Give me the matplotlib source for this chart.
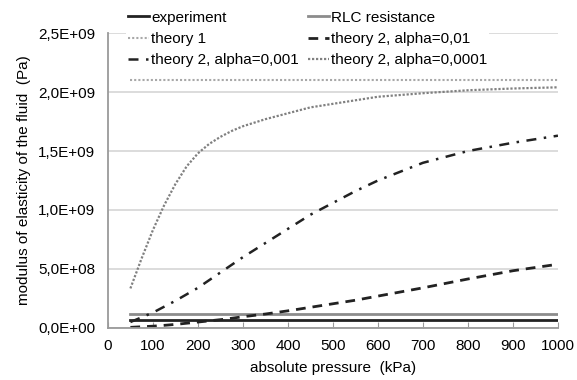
import numpy as np
import matplotlib.pyplot as plt
from matplotlib.ticker import FuncFormatter, MultipleLocator

plt.rcParams['font.family'] = ['Liberation Sans', 'DejaVu Sans']

# absolute pressure (kPa)
p = np.array([50, 75, 100, 125, 150, 175, 200, 225, 250, 275, 300, 350, 400, 450,
              500, 550, 600, 700, 800, 900, 1000])

# constant levels (Pa)
experiment = 6.5e7
rlc_resistance = 1.15e8
theory1 = 2.1e9

# theory 2 curves (Pa)
alpha_0001 = np.array([0.335, 0.59, 0.83, 1.04, 1.22, 1.37, 1.48, 1.56, 1.62, 1.67,
                       1.71, 1.77, 1.82, 1.87, 1.90, 1.93, 1.96, 1.99, 2.015, 2.03,
                       2.04]) * 1e9
alpha_001 = np.array([0.05, 0.09, 0.13, 0.18, 0.23, 0.285, 0.34, 0.405, 0.47, 0.535,
                      0.60, 0.72, 0.84, 0.96, 1.06, 1.16, 1.25, 1.40, 1.50, 1.57,
                      1.63]) * 1e9
alpha_01 = np.array([0.005, 0.01, 0.015, 0.022, 0.03, 0.04, 0.05, 0.06, 0.07, 0.082,
                     0.095, 0.118, 0.145, 0.175, 0.205, 0.235, 0.27, 0.34, 0.415,
                     0.485, 0.54]) * 1e9

fig = plt.figure(figsize=(5.77, 3.8), dpi=100)
ax = fig.add_axes([0.187, 0.137, 0.78, 0.776])

ax.grid(axis='y', color='#d9d9d9', lw=1.3)
ax.set_axisbelow(True)

l_exp, = ax.plot(p, np.full(len(p), experiment), color='#222222', lw=2,
                 label='experiment')
l_rlc, = ax.plot(p, np.full(len(p), rlc_resistance), color='#8c8c8c', lw=2,
                 label='RLC resistance')
l_t1, = ax.plot(p, np.full(len(p), theory1), color='#a8a8a8', lw=1.5,
                ls=(0, (1, 1)), label='theory 1')
l_a2, = ax.plot(p, alpha_01, color='#222222', lw=2, ls=(0, (3.5, 2.5)),
                label='theory 2, alpha=0,01')
l_a3, = ax.plot(p, alpha_001, color='#222222', lw=1.8, ls=(0, (4, 3, 1, 3)),
                label='theory 2, alpha=0,001')
l_a4, = ax.plot(p, alpha_0001, color='#808080', lw=1.6, ls=(0, (1, 0.8)),
                label='theory 2, alpha=0,0001')

ax.set_xlim(0, 1000)
ax.set_ylim(0, 2.5e9)
ax.xaxis.set_major_locator(MultipleLocator(100))
ax.yaxis.set_major_locator(MultipleLocator(0.5e9))
ax.yaxis.set_major_formatter(FuncFormatter(lambda v, pos: f'{v:.1E}'.replace('.', ',')))

for s in ['top', 'right']:
    ax.spines[s].set_visible(False)
for s in ['left', 'bottom']:
    ax.spines[s].set_color('#9a9a9a')
    ax.spines[s].set_linewidth(1.3)
ax.tick_params(axis='x', direction='in', length=4, color='#9a9a9a', labelsize=11, pad=8)
ax.tick_params(axis='y', length=0, labelsize=11, pad=9)

ax.set_xlabel('absolute pressure  (kPa)', fontsize=11, labelpad=6)
ax.set_ylabel('modulus of elasticity of the fluid  (Pa)', fontsize=11, labelpad=5)

handles = [l_exp, l_t1, l_a3, l_rlc, l_a2, l_a4]
leg = fig.legend(handles=handles, ncol=2, loc='upper left',
                 bbox_to_anchor=(0.218, 0.978), frameon=True, fontsize=11,
                 handlelength=1.4, handletextpad=0.1, columnspacing=0.6,
                 labelspacing=0.48, borderpad=0.15, borderaxespad=0)
leg.get_frame().set_edgecolor('none')
leg.get_frame().set_facecolor('white')
leg.get_frame().set_alpha(1)

fig.savefig('out.png')
